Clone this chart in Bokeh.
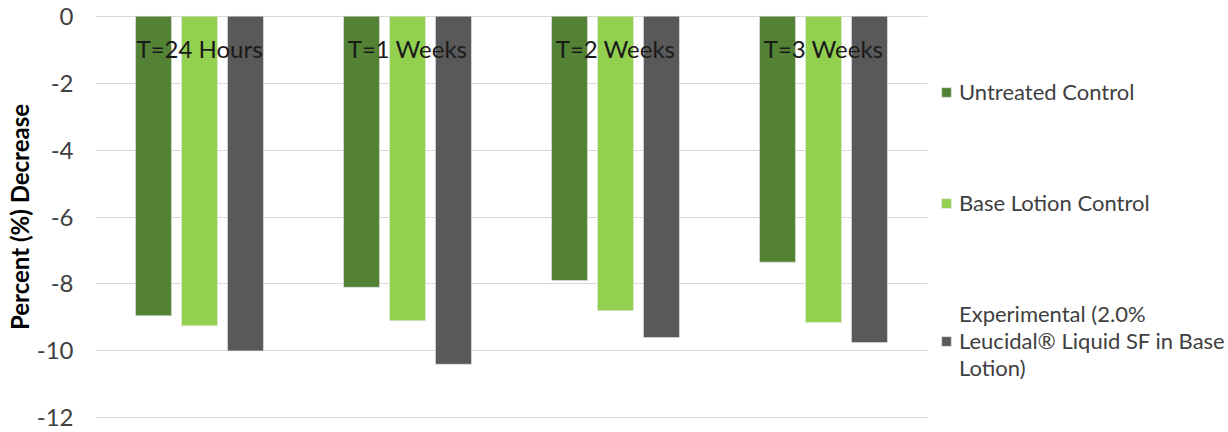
from bokeh.plotting import figure
from bokeh.models import (FactorRange, Range1d, Legend, LegendItem, ColumnDataSource,
                          FixedTicker, PrintfTickFormatter)
from bokeh.transform import dodge
from bokeh.core.properties import value
from bokeh.embed import file_html
from bokeh.resources import INLINE

# Time points and the three treatment groups
timepoints = ["T=24 Hours", "T=1 Weeks", "T=2 Weeks", "T=3 Weeks"]
untreated = [-8.95, -8.1, -7.9, -7.35]
base_lotion = [-9.25, -9.1, -8.8, -9.15]
experimental = [-10.0, -10.4, -9.6, -9.75]

series_names = [
    "Untreated Control",
    "Base Lotion Control",
    "Experimental (2.0%\nLeucidal® Liquid SF in Base\nLotion)",
]
series_colors = ["#548235", "#92D050", "#595959"]
y_ticks = [0, -2, -4, -6, -8, -10, -12]

FONT = "Lato"

source = ColumnDataSource(data=dict(
    t=timepoints,
    untreated=untreated,
    base=base_lotion,
    exp=experimental,
    zero=[0] * len(timepoints),
))

p = figure(
    x_range=FactorRange(*timepoints, range_padding=0),
    y_range=Range1d(-12.02, 0.02),
    frame_width=832, frame_height=403,
    min_border_left=95, min_border_top=15, min_border_bottom=14, min_border_right=301,
    output_backend="svg", toolbar_location=None,
    background_fill_color="white", border_fill_color="white",
)
p.outline_line_color = None

offsets = [-0.221, 0.0, 0.221]
cols = ["untreated", "base", "exp"]
renderers = []
for off, col, color in zip(offsets, cols, series_colors):
    r = p.vbar(
        x=dodge("t", off, range=p.x_range), top="zero", bottom=col, width=0.173,
        source=source, fill_color=color, line_color="#E6E6E6", line_width=0.6,
    )
    renderers.append(r)

# category labels sit just below the zero line, over the bars
p.text(
    x="t", y="zero", text="t", source=source,
    text_font=value(FONT), text_font_size="24px", text_color="#1A1A1A",
    text_align="center", text_baseline="middle", y_offset=32,
)

p.xaxis.visible = False
p.xgrid.grid_line_color = None
p.ygrid.grid_line_color = "#D9D9D9"
p.ygrid.grid_line_width = 1.2

yax = p.yaxis[0]
yax.ticker = FixedTicker(ticks=y_ticks)
yax.formatter = PrintfTickFormatter(format="%d")
yax.axis_line_color = None
yax.major_tick_line_color = None
yax.minor_tick_line_color = None
yax.major_tick_out = 0
yax.major_tick_in = 0
yax.minor_tick_out = 0
yax.major_label_text_font = FONT
yax.major_label_text_font_size = "24px"
yax.major_label_text_color = "#404040"
yax.major_label_standoff = 22
yax.axis_label = "Percent (%) Decrease"
yax.axis_label_text_font = FONT
yax.axis_label_text_font_style = "bold"
yax.axis_label_text_font_size = "24px"
yax.axis_label_text_color = "#000000"
yax.axis_label_standoff = 0

legend = Legend(
    items=[LegendItem(label=n, renderers=[r]) for n, r in zip(series_names, renderers)],
    location=(13, 37),
    glyph_width=12, glyph_height=12,
    label_text_font=FONT, label_text_font_size="22px", label_text_color="#404040",
    label_text_line_height=1.45,
    label_standoff=7, spacing=84, padding=0, margin=0,
    border_line_color=None, background_fill_alpha=0,
)
p.add_layout(legend, "right")

open("out.html", "w").write(file_html(p, INLINE))
